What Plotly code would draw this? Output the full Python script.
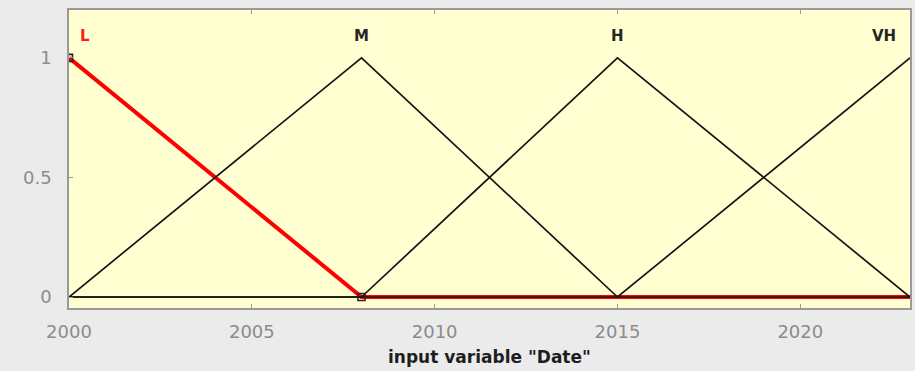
import plotly.graph_objects as go

# membership functions of input variable "Date"
mf_names = ["L", "M", "H", "VH"]
x_min, x_max = 2000, 2023
L_x = [2000, 2008, 2023]
L_y = [1, 0, 0]
M_x = [2000, 2008, 2015, 2023]
M_y = [0, 1, 0, 0]
H_x = [2000, 2008, 2015, 2023]
H_y = [0, 0, 1, 0]
VH_x = [2000, 2015, 2023]
VH_y = [0, 0, 1]
label_x = [2000, 2008, 2015, 2023]
label_y = [1.09, 1.09, 1.09, 1.09]
x_ticks = [2000, 2005, 2010, 2015, 2020]
y_ticks = [0, 0.5, 1]
y_tick_text = ["0", "0.5", "1"]

fig = go.Figure()
fig.add_trace(go.Scatter(x=L_x, y=L_y, mode="lines", line=dict(color="#ff0000", width=4),
                         hoverinfo="skip"))
for xs, ys in [(M_x, M_y), (H_x, H_y), (VH_x, VH_y)]:
    fig.add_trace(go.Scatter(x=xs, y=ys, mode="lines", line=dict(color="#141414", width=1.7),
                             hoverinfo="skip"))
# parameter markers of the selected MF
fig.add_trace(go.Scatter(x=[L_x[0], L_x[1]], y=[L_y[0], L_y[1]], mode="markers",
                         marker=dict(symbol="square-open", size=7, color="#3a1a1a",
                                     line=dict(width=1.6, color="#3a1a1a")),
                         hoverinfo="skip"))

colors = ["#ff1a1a", "#262626", "#262626", "#262626"]
anchors = ["left", "center", "center", "right"]
shifts = [9, 0, 0, -12]
for name, lx, ly, c, a, s in zip(mf_names, label_x, label_y, colors, anchors, shifts):
    fig.add_annotation(x=lx, y=ly, text="<b>%s</b>" % name, showarrow=False,
                       xanchor=a, yanchor="middle", xshift=s,
                       font=dict(family="DejaVu Sans", size=15, color=c))

fig.add_annotation(x=0.5, y=0, xref="paper", yref="paper", text='<b>input variable "Date"</b>',
                   showarrow=False, xanchor="center", yanchor="middle", yshift=-49,
                   font=dict(family="DejaVu Sans", size=17, color="#1e1e1e"))

fig.update_layout(
    width=915, height=371,
    margin=dict(l=69, r=5, t=10, b=63),
    paper_bgcolor="#ebebeb",
    plot_bgcolor="#ffffd2",
    showlegend=False,
    font=dict(family="DejaVu Sans", size=18, color="#8c8c8c"),
)
fig.update_xaxes(range=[x_min, x_max], tickvals=x_ticks, ticks="inside", ticklen=4,
                 tickcolor="#999999", showgrid=False, zeroline=False, automargin=False,
                 showline=True, linecolor="#9a9a9a", linewidth=1.5, mirror="allticks",
                 ticklabelstandoff=7)
fig.update_yaxes(range=[-0.046, 1.2], tickvals=y_ticks, ticktext=y_tick_text,
                 ticks="inside", ticklen=4, tickcolor="#999999", showgrid=False,
                 zeroline=False, showline=True, linecolor="#9a9a9a", linewidth=1.5,
                 mirror=True, ticklabelstandoff=12, automargin=False)

fig.write_html("out.html", config={"displayModeBar": False},
               post_script="document.body.style.margin='0';")
